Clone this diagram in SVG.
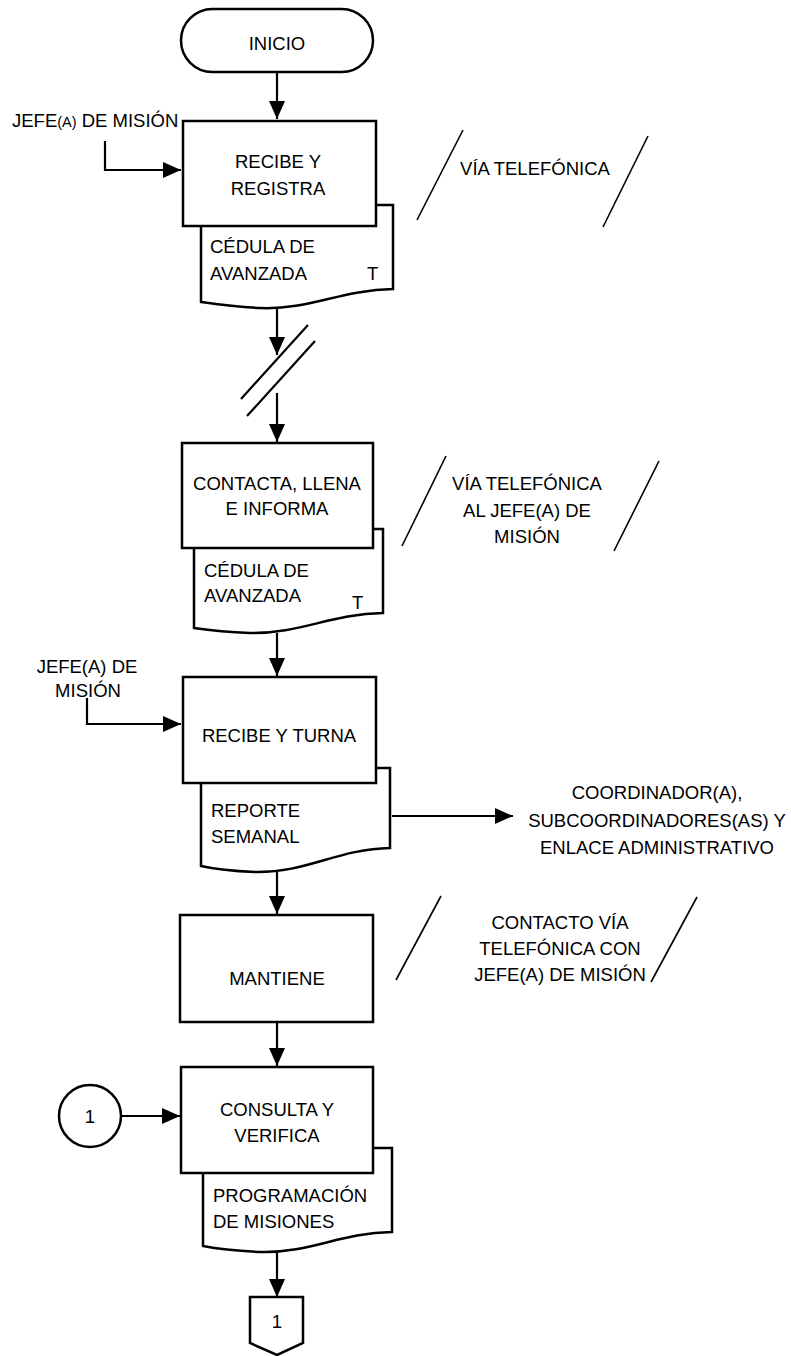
<svg xmlns="http://www.w3.org/2000/svg" width="791" height="1356" viewBox="0 0 791 1356">
<defs>
<style>
.box{fill:#fff;stroke:#000;stroke-width:2.5}
.doc{fill:#fff;stroke:#000;stroke-width:2.5}
.ln{fill:none;stroke:#000;stroke-width:2.2}
.sl{fill:none;stroke:#000;stroke-width:1.6}
text{font-family:"Liberation Sans",Arial,sans-serif;font-size:18.5px;fill:#000}
.c{text-anchor:middle}
</style>
<marker id="ah" viewBox="0 0 18 16" refX="18" refY="8" markerWidth="18" markerHeight="16" markerUnits="userSpaceOnUse" orient="auto">
<path d="M0,0 L18,8 L0,16 Z" fill="#000"/>
</marker>
</defs>
<rect width="791" height="1356" fill="#fff"/>

<g id="connectors">
<line class="ln" x1="277" y1="72" x2="277" y2="119" marker-end="url(#ah)"/>
<polyline class="ln" points="105,141 105,170 181,170" marker-end="url(#ah)"/>
<line class="ln" x1="277" y1="309" x2="277" y2="355" marker-end="url(#ah)"/>
<line class="ln" x1="308" y1="325" x2="241" y2="399"/>
<line class="ln" x1="315" y1="341" x2="247" y2="416"/>
<line class="ln" x1="277" y1="393" x2="277" y2="442" marker-end="url(#ah)"/>
<line class="ln" x1="277" y1="633" x2="277" y2="676" marker-end="url(#ah)"/>
<polyline class="ln" points="87,698 87,724 181,724" marker-end="url(#ah)"/>
<line class="ln" x1="392" y1="816" x2="513" y2="816" marker-end="url(#ah)"/>
<line class="ln" x1="277" y1="872" x2="277" y2="914" marker-end="url(#ah)"/>
<line class="ln" x1="277" y1="1022" x2="277" y2="1066" marker-end="url(#ah)"/>
<line class="ln" x1="121" y1="1116" x2="180" y2="1116" marker-end="url(#ah)"/>
<line class="ln" x1="277" y1="1252" x2="277" y2="1297" marker-end="url(#ah)"/>
</g>

<g id="inicio">
<rect class="box" x="181" y="9" width="192" height="63" rx="31.5"/>
<text class="c" x="277" y="50">INICIO</text>
</g>

<g id="label-jefe1">
<text x="12" y="127">JEFE<tspan font-size="14.5">(A)</tspan>  DE MISIÓN</text>
</g>

<g id="doc1">
<path class="doc" d="M201,205 H393 V289 C340,290 310,310 260,308 C235,307 215,304 201,302 Z"/>
<text x="210" y="253">CÉDULA DE</text>
<text x="210" y="280">AVANZADA</text>
<text x="367" y="280">T</text>
</g>
<g id="recibe-registra">
<rect class="box" x="183" y="121" width="193" height="105"/>
<text class="c" x="278" y="168">RECIBE Y</text>
<text class="c" x="278" y="195">REGISTRA</text>
</g>

<g id="note1">
<line class="sl" x1="463" y1="130" x2="417" y2="220"/>
<line class="sl" x1="648" y1="136" x2="603" y2="227"/>
<text class="c" x="535" y="175">VÍA TELEFÓNICA</text>
</g>

<g id="doc2">
<path class="doc" d="M194,529 H383 V613 C330,614 300,634 250,633 C225,632 208,630 194,628 Z"/>
<text x="204" y="577">CÉDULA DE</text>
<text x="204" y="602">AVANZADA</text>
<text x="352" y="609">T</text>
</g>
<g id="contacta">
<rect class="box" x="182" y="443" width="191" height="105"/>
<text class="c" x="277" y="490">CONTACTA, LLENA</text>
<text class="c" x="277" y="515">E INFORMA</text>
</g>

<g id="note2">
<line class="sl" x1="446" y1="456" x2="402" y2="546"/>
<line class="sl" x1="659" y1="461" x2="614" y2="551"/>
<text class="c" x="527" y="490">VÍA TELEFÓNICA</text>
<text class="c" x="527" y="517">AL JEFE(A) DE</text>
<text class="c" x="527" y="543">MISIÓN</text>
</g>

<g id="label-jefe2">
<text class="c" x="87" y="673">JEFE(A) DE</text>
<text class="c" x="88" y="697">MISIÓN</text>
</g>

<g id="doc3">
<path class="doc" d="M201,768 H390 V848 C337,849 307,873 255,872 C230,871 214,869 201,866 Z"/>
<text x="211" y="817">REPORTE</text>
<text x="211" y="843">SEMANAL</text>
</g>
<g id="recibe-turna">
<rect class="box" x="183" y="677" width="193" height="106"/>
<text class="c" x="279" y="742">RECIBE Y TURNA</text>
</g>

<g id="destinatarios">
<text class="c" x="657" y="799">COORDINADOR(A),</text>
<text class="c" x="657" y="827">SUBCOORDINADORES(AS) Y</text>
<text class="c" x="657" y="854">ENLACE ADMINISTRATIVO</text>
</g>

<g id="mantiene">
<rect class="box" x="180" y="915" width="193" height="107"/>
<text class="c" x="277" y="985">MANTIENE</text>
</g>

<g id="note3">
<line class="sl" x1="441" y1="896" x2="396" y2="980"/>
<line class="sl" x1="697" y1="897" x2="651" y2="982"/>
<text class="c" x="560" y="929">CONTACTO VÍA</text>
<text class="c" x="560" y="955">TELEFÓNICA CON</text>
<text class="c" x="560" y="981">JEFE(A) DE MISIÓN</text>
</g>

<g id="conector-1">
<circle class="box" cx="90" cy="1116" r="31"/>
<text class="c" x="90" y="1123">1</text>
</g>

<g id="doc5">
<path class="doc" d="M203,1148 H392 V1232 C340,1233 310,1253 262,1252 C235,1251 218,1249 203,1246 Z"/>
<text x="213" y="1202">PROGRAMACIÓN</text>
<text x="213" y="1228">DE MISIONES</text>
</g>
<g id="consulta">
<rect class="box" x="181" y="1067" width="192" height="106"/>
<text class="c" x="277" y="1116">CONSULTA Y</text>
<text class="c" x="277" y="1142">VERIFICA</text>
</g>

<g id="offpage-1">
<path class="box" d="M250,1297 H303 V1343 L277,1355 L250,1343 Z"/>
<text class="c" x="277" y="1328">1</text>
</g>
</svg>
